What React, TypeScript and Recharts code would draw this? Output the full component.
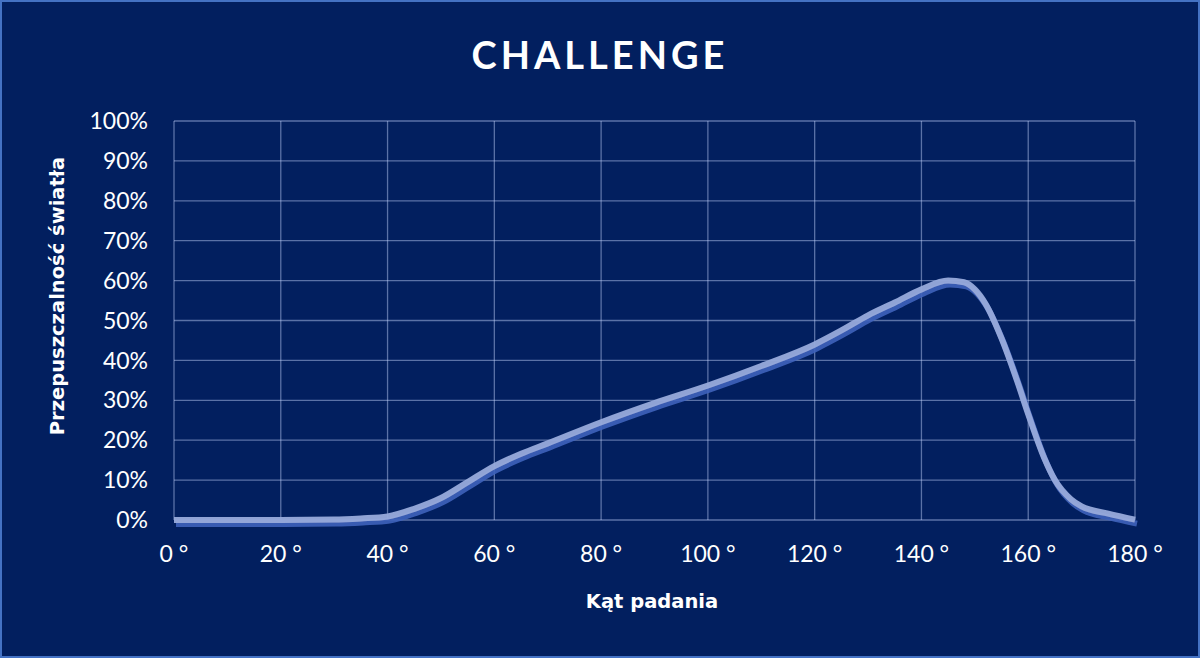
import { CartesianGrid, Line, LineChart, XAxis, YAxis } from 'recharts';

const angles = [0, 10, 20, 30, 35, 40, 45, 50, 55, 60, 65, 70, 80, 90, 100, 110, 120, 125, 130, 135, 140, 145, 148, 150, 152, 155, 158, 160, 163, 165, 168, 170, 175, 180];
const transmission = [0, 0, 0, 0.1, 0.4, 0.9, 2.8, 5.5, 9.5, 13.5, 16.6, 19.2, 24.5, 29.3, 33.7, 38.6, 44, 47.5, 51.3, 54.5, 57.8, 60, 59.6, 57.8, 54.2, 45.5, 34.5, 26.5, 15.5, 10, 5.2, 3.4, 1.6, 0.1];
const xTicks = [0, 20, 40, 60, 80, 100, 120, 140, 160, 180];
const yTicks = [0, 10, 20, 30, 40, 50, 60, 70, 80, 90, 100];
const title = 'CHALLENGE';
const xTitle = 'Kąt padania';
const yTitle = 'Przepuszczalność światła';

const data = angles.map((a, i) => ({ angle: a, value: transmission[i] }));

const bg = '#021f5f';
const gridColor = 'rgba(200,215,255,0.45)';
const tickStyle = { fontSize: 23, fill: '#ffffff', fontFamily: 'Lato, "Open Sans", sans-serif' };
const axisTitleFont = '"DejaVu Sans", Verdana, sans-serif';

export default function App() {
  return (
    <div
      style={{
        position: 'absolute',
        left: 0,
        top: 0,
        width: 1200,
        height: 658,
        boxSizing: 'border-box',
        border: '2px solid #4472c4',
        background: bg,
        overflow: 'hidden',
      }}
    >
      <svg width={0} height={0} style={{ position: 'absolute' }}>
        <defs>
          <filter id="lineShadow" x="-5%" y="-5%" width="110%" height="120%">
            <feDropShadow dx="2" dy="4" stdDeviation="0.6" floodColor="#4163bb" floodOpacity="0.95" />
          </filter>
        </defs>
      </svg>
      <div
        style={{
          position: 'absolute',
          left: 0,
          width: 1196,
          top: 28,
          textAlign: 'center',
          color: '#ffffff',
          fontFamily: 'Lato, "Open Sans", sans-serif',
          fontWeight: 700,
          fontSize: 38,
          letterSpacing: 4,
          lineHeight: '48px',
        }}
      >
        {title}
      </div>
      <div style={{ position: 'absolute', left: -2, top: -2 }}>
        <LineChart width={1200} height={658} data={data} margin={{ top: 121, right: 65, bottom: 98, left: 74 }}>
          <CartesianGrid stroke={gridColor} strokeWidth={1.3} horizontal vertical />
          <XAxis
            dataKey="angle"
            type="number"
            domain={[0, 180]}
            ticks={xTicks}
            tickFormatter={(v: number) => `${v} °`}
            tick={tickStyle}
            tickLine={false}
            axisLine={false}
            tickSize={0}
            tickMargin={26}
            height={40}
            interval={0}
          />
          <YAxis
            type="number"
            domain={[0, 100]}
            ticks={yTicks}
            tickFormatter={(v: number) => `${v}%`}
            tick={tickStyle}
            tickLine={false}
            axisLine={false}
            tickSize={0}
            tickMargin={26}
            width={100}
            interval={0}
          />
          <Line
            type="monotone"
            dataKey="value"
            stroke="#97aadb"
            strokeWidth={6}
            strokeOpacity={0.95}
            dot={false}
            activeDot={false}
            isAnimationActive={false}
            filter="url(#lineShadow)"
          />
        </LineChart>
      </div>
      <svg width={1200} height={658} style={{ position: 'absolute', left: -2, top: -2, pointerEvents: 'none' }}>
        <text
          x={652}
          y={602}
          textAnchor="middle"
          dominantBaseline="middle"
          fill="#ffffff"
          fontFamily={axisTitleFont}
          fontWeight={700}
          fontSize={19.5}
        >
          {xTitle}
        </text>
        <text
          x={58}
          y={296}
          transform="rotate(-90 58 296)"
          textAnchor="middle"
          dominantBaseline="middle"
          fill="#ffffff"
          fontFamily={axisTitleFont}
          fontWeight={700}
          fontSize={19.5}
        >
          {yTitle}
        </text>
      </svg>
    </div>
  );
}
